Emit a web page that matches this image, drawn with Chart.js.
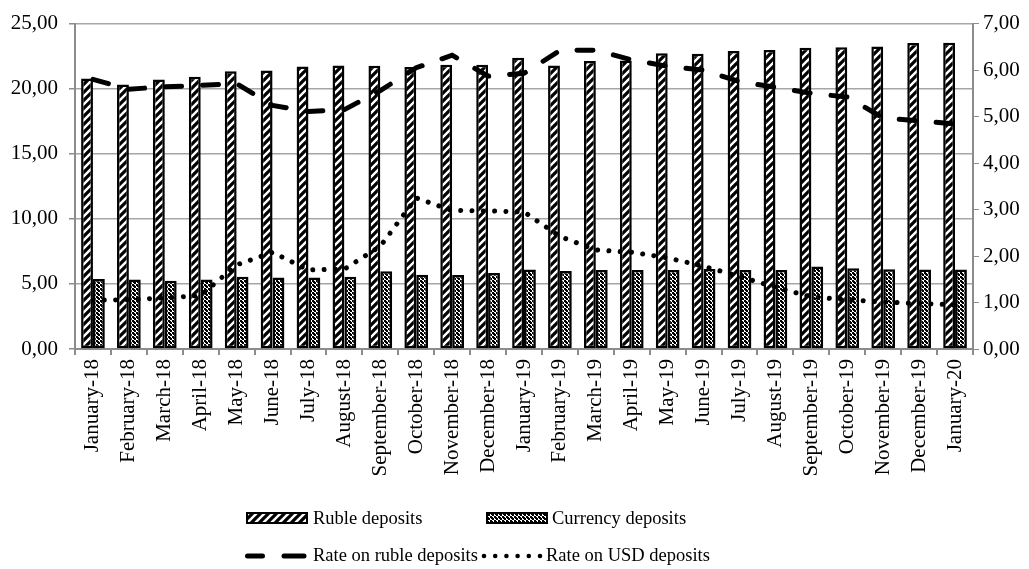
<!DOCTYPE html>
<html>
<head>
<meta charset="utf-8">
<script src="https://cdn.jsdelivr.net/npm/chart.js@4.4.0/dist/chart.umd.min.js"></script>
<style>
  body { margin: 0; background: #fff; }
  #wrap { position: relative; width: 1029px; height: 569px; }
  #grafico { display: block; }
  .leg { position: absolute; font-family: 'Liberation Serif', 'Times New Roman', serif; font-size: 18.5px; color: #000; line-height: 1; white-space: nowrap; }
  .sw { position: absolute; display: block; }
</style>
</head>
<body>
<div id="wrap">
  <canvas id="grafico" width="1029" height="569"></canvas>
  <canvas class="sw" id="swRub" width="62" height="12" style="left:246px;top:512px"></canvas>
  <span class="leg" style="left:313px;top:509px">Ruble deposits</span>
  <canvas class="sw" id="swCur" width="62" height="12" style="left:486px;top:512px"></canvas>
  <span class="leg" style="left:552px;top:509px">Currency deposits</span>
  <canvas class="sw" id="swRate" width="66" height="10" style="left:243px;top:551px"></canvas>
  <span class="leg" style="left:313px;top:546px">Rate on ruble deposits</span>
  <canvas class="sw" id="swUsd" width="62" height="10" style="left:481px;top:551px"></canvas>
  <span class="leg" style="left:546px;top:546px">Rate on USD deposits</span>
</div>
<script>
const meses = [
  'January-18', 'February-18', 'March-18', 'April-18', 'May-18', 'June-18',
  'July-18', 'August-18', 'September-18', 'October-18', 'November-18', 'December-18',
  'January-19', 'February-19', 'March-19', 'April-19', 'May-19', 'June-19',
  'July-19', 'August-19', 'September-19', 'October-19', 'November-19', 'December-19',
  'January-20'
];

// depósitos (eixo esquerdo)
const rubleDeposits = [20.78, 20.33, 20.70, 20.91, 21.33, 21.39, 21.71, 21.79, 21.77, 21.67, 21.84, 21.84,
  22.37, 21.79, 22.12, 22.17, 22.73, 22.68, 22.90, 22.98, 23.15, 23.18, 23.25, 23.50, 23.53];
const currencyDeposits = [5.38, 5.33, 5.25, 5.33, 5.55, 5.50, 5.50, 5.55, 5.98, 5.70, 5.68, 5.83,
  6.10, 6.00, 6.06, 6.06, 6.06, 6.15, 6.06, 6.06, 6.33, 6.20, 6.13, 6.10, 6.10];

// taxas (eixo direito)
const rateRuble = [5.80, 5.59, 5.64, 5.67, 5.71, 5.24, 5.11, 5.15, 5.56, 6.05, 6.32, 5.87,
  5.93, 6.42, 6.43, 6.22, 6.08, 6.00, 5.75, 5.63, 5.50, 5.42, 4.97, 4.91, 4.84];
const rateUSD = [1.05, 1.06, 1.10, 1.15, 1.81, 2.08, 1.70, 1.72, 2.21, 3.25, 2.98, 2.97,
  2.95, 2.42, 2.13, 2.08, 1.96, 1.78, 1.56, 1.33, 1.12, 1.06, 1.01, 0.98, 0.95];

const ticksEsq = [0, 5, 10, 15, 20, 25];
const ticksDir = [0, 1, 2, 3, 4, 5, 6, 7];

const fonte = "'Liberation Serif', 'Times New Roman', serif";
const cinza = '#8c8c8c';
const fmt = v => Number(v).toFixed(2).replace('.', ',');

function padraoListras(ctx) {
  const c = document.createElement('canvas');
  c.width = 8; c.height = 8;
  const g = c.getContext('2d');
  g.fillStyle = '#fff';
  g.fillRect(0, 0, 8, 8);
  g.strokeStyle = '#000';
  g.lineWidth = 3.2;
  g.beginPath();
  g.moveTo(-2, 10); g.lineTo(10, -2);
  g.moveTo(-2, 2); g.lineTo(2, -2);
  g.moveTo(6, 10); g.lineTo(10, 6);
  g.stroke();
  return ctx.createPattern(c, 'repeat');
}

function padraoXadrez(ctx) {
  const c = document.createElement('canvas');
  c.width = 4; c.height = 4;
  const g = c.getContext('2d');
  g.fillStyle = '#fff';
  g.fillRect(0, 0, 4, 4);
  g.fillStyle = '#000';
  g.fillRect(0, 0, 2, 2);
  g.fillRect(2, 2, 2, 2);
  g.fillRect(1, 1, 2, 2);
  return ctx.createPattern(c, 'repeat');
}

const ctx = document.getElementById('grafico').getContext('2d');
const listras = padraoListras(ctx);
const xadrez = padraoXadrez(ctx);

Chart.defaults.font.family = fonte;
Chart.defaults.color = '#000';

new Chart(ctx, {
  data: {
    labels: meses,
    datasets: [
      {
        type: 'line',
        label: 'Rate on ruble deposits',
        data: rateRuble,
        yAxisID: 'y1',
        borderColor: '#000',
        borderWidth: 5,
        borderDash: [16, 21],
        borderCapStyle: 'round',
        pointRadius: 0,
        tension: 0,
        order: 0
      },
      {
        type: 'line',
        label: 'Rate on USD deposits',
        data: rateUSD,
        yAxisID: 'y1',
        borderColor: '#000',
        borderWidth: 5,
        borderDash: [0.01, 11.3],
        borderCapStyle: 'round',
        pointRadius: 0,
        tension: 0,
        order: 0
      },
      {
        type: 'bar',
        label: 'Ruble deposits',
        data: rubleDeposits,
        yAxisID: 'y',
        backgroundColor: listras,
        borderColor: '#000',
        borderWidth: 2.5,
        borderSkipped: false,
        categoryPercentage: 0.66,
        barPercentage: 1.0,
        order: 1
      },
      {
        type: 'bar',
        label: 'Currency deposits',
        data: currencyDeposits,
        yAxisID: 'y',
        backgroundColor: xadrez,
        borderColor: '#000',
        borderWidth: 2.5,
        borderSkipped: false,
        categoryPercentage: 0.66,
        barPercentage: 1.0,
        order: 1
      }
    ]
  },
  options: {
    responsive: false,
    animation: false,
    layout: { padding: { top: 19, bottom: 85, left: 0, right: 0 } },
    plugins: {
      legend: { display: false },
      tooltip: { enabled: false }
    },
    scales: {
      x: {
        afterFit: s => { s.height = 135; },
        grid: { offset: true, drawOnChartArea: false, drawTicks: true, tickLength: 6, color: cinza, lineWidth: 2 },
        border: { color: cinza, width: 2 },
        ticks: { font: { size: 21 }, minRotation: 90, maxRotation: 90, padding: 4, autoSkip: false }
      },
      y: {
        position: 'left',
        min: 0,
        max: 25,
        afterFit: s => { s.width = 75; },
        afterBuildTicks: s => { s.ticks = ticksEsq.map(v => ({ value: v })); },
        grid: { color: '#a6a6a6', lineWidth: 1.5, tickLength: 6, tickColor: cinza },
        border: { color: cinza, width: 2 },
        ticks: { font: { size: 21 }, padding: 11, callback: fmt }
      },
      y1: {
        position: 'right',
        min: 0,
        max: 7,
        afterFit: s => { s.width = 56; },
        afterBuildTicks: s => { s.ticks = ticksDir.map(v => ({ value: v })); },
        grid: { drawOnChartArea: false, tickLength: 6, color: cinza },
        border: { color: cinza, width: 2 },
        ticks: { font: { size: 21 }, padding: 4, callback: fmt }
      }
    }
  }
});

// amostras da legenda
function amostraBarra(id, padrao) {
  const c = document.getElementById(id);
  const g = c.getContext('2d');
  g.fillStyle = padrao;
  g.fillRect(1, 1, c.width - 2, c.height - 2);
  g.strokeStyle = '#000';
  g.lineWidth = 2;
  g.strokeRect(1, 1, c.width - 2, c.height - 2);
}
amostraBarra('swRub', listras);
amostraBarra('swCur', xadrez);

(function () {
  const g = document.getElementById('swRate').getContext('2d');
  g.strokeStyle = '#000';
  g.lineWidth = 5;
  g.lineCap = 'round';
  g.beginPath();
  g.moveTo(4.5, 5); g.lineTo(19.5, 5);
  g.moveTo(41, 5); g.lineTo(61, 5);
  g.stroke();
  const h = document.getElementById('swUsd').getContext('2d');
  h.fillStyle = '#000';
  for (let i = 0; i < 6; i++) {
    h.beginPath();
    h.arc(3 + i * 11.2, 5, 2.3, 0, Math.PI * 2);
    h.fill();
  }
})();
</script>
</body>
</html>
